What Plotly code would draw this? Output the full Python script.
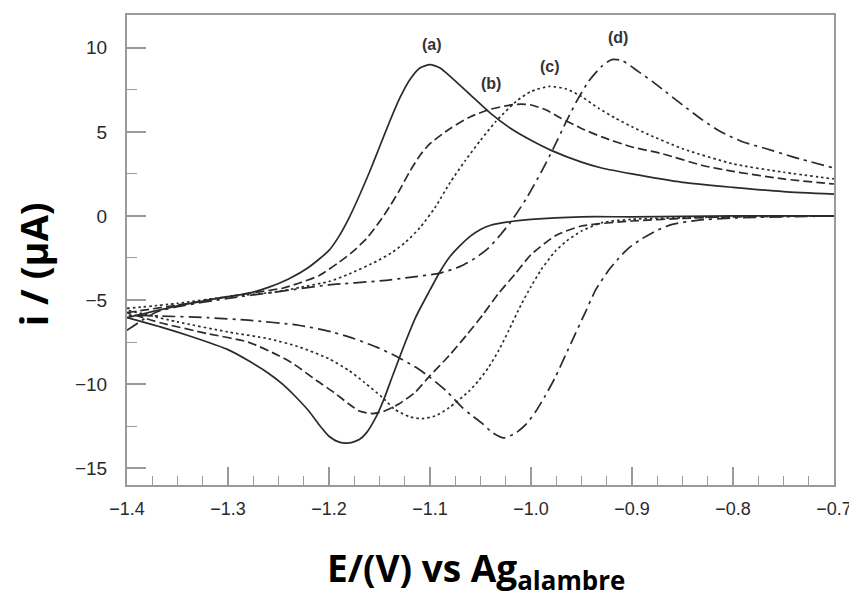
import plotly.graph_objects as go

# ---------------- data ----------------
# curve (a) – solid
a_fwd_E = [-1.40, -1.35, -1.30, -1.28, -1.26, -1.24, -1.22, -1.20, -1.19, -1.18, -1.17, -1.16, -1.15, -1.14,
           -1.13, -1.12, -1.11, -1.10, -1.09, -1.08, -1.06, -1.04, -1.02, -1.00, -0.98, -0.95, -0.93, -0.90,
           -0.85, -0.80, -0.75, -0.70]
a_fwd_i = [-6.05, -5.35, -4.8, -4.6, -4.25, -3.75, -3.05, -2.05, -1.2, -0.1, 1.2, 2.6, 4.1, 5.6,
           7.0, 8.1, 8.8, 9.0, 8.8, 8.3, 7.2, 6.1, 5.2, 4.5, 3.9, 3.2, 2.85, 2.5,
           2.0, 1.7, 1.45, 1.3]
a_rev_E = [-0.70, -0.80, -0.90, -0.95, -1.00, -1.02, -1.04, -1.05, -1.06, -1.07, -1.08, -1.09, -1.10, -1.114,
           -1.125, -1.137, -1.145, -1.153, -1.163, -1.17, -1.18, -1.19, -1.20, -1.21, -1.22, -1.233,
           -1.246, -1.26, -1.28, -1.30, -1.335, -1.367, -1.40]
a_rev_i = [0.0, 0.0, -0.05, -0.05, -0.2, -0.33, -0.55, -0.8, -1.2, -1.75, -2.4, -3.3, -4.4, -6.0,
           -7.6, -9.5, -10.8, -11.9, -12.9, -13.3, -13.5, -13.45, -13.1, -12.4, -11.6, -10.75,
           -10.0, -9.35, -8.6, -7.95, -7.2, -6.6, -6.05]

# curve (b) – dashed
b_fwd_E = [-1.40, -1.35, -1.30, -1.28, -1.246, -1.23, -1.21, -1.19, -1.177, -1.163, -1.15, -1.14, -1.13,
           -1.12, -1.11, -1.10, -1.08, -1.06, -1.04, -1.02, -1.01, -1.00, -0.985, -0.97, -0.95, -0.93, -0.90,
           -0.87, -0.83, -0.80, -0.75, -0.70]
b_fwd_i = [-5.75, -5.3, -4.8, -4.6, -4.3, -4.0, -3.55, -2.75, -2.15, -1.35, -0.35, 0.55, 1.55,
           2.65, 3.6, 4.3, 5.2, 5.9, 6.35, 6.6, 6.65, 6.6, 6.3, 5.8, 5.2, 4.7, 4.1,
           3.7, 3.0, 2.65, 2.2, 1.9]
b_rev_E = [-0.70, -0.80, -0.85, -0.90, -0.95, -0.975, -1.00, -1.015, -1.032, -1.048, -1.064, -1.081,
           -1.10, -1.115, -1.13, -1.145, -1.157, -1.17, -1.18, -1.195, -1.212, -1.235, -1.25, -1.28,
           -1.32, -1.367, -1.40]
b_rev_i = [0.0, -0.05, -0.15, -0.3, -0.6, -1.15, -2.3, -3.4, -4.6, -5.9, -7.1, -8.3,
           -9.5, -10.5, -11.15, -11.6, -11.75, -11.6, -11.2, -10.5, -9.8, -8.8, -8.3, -7.5,
           -7.0, -6.35, -5.75]

# curve (c) – dotted
c_fwd_E = [-1.40, -1.35, -1.30, -1.25, -1.229, -1.20, -1.18, -1.153, -1.137, -1.124, -1.11, -1.095,
           -1.08, -1.065, -1.05, -1.035, -1.015, -1.00, -0.982, -0.965, -0.95, -0.933, -0.916,
           -0.90, -0.884, -0.85, -0.80, -0.75, -0.70]
c_fwd_i = [-5.5, -5.2, -4.8, -4.5, -4.25, -3.9, -3.45, -2.7, -2.15, -1.55, -0.7, 0.5,
           2.0, 3.3, 4.5, 5.6, 6.8, 7.4, 7.7, 7.55, 7.1, 6.4, 5.8,
           5.3, 4.85, 4.0, 3.1, 2.6, 2.2]
c_rev_E = [-0.70, -0.80, -0.90, -0.93, -0.95, -0.965, -0.976, -0.99, -1.00, -1.01, -1.022, -1.032,
           -1.042, -1.052, -1.061, -1.081, -1.095, -1.108, -1.12, -1.135, -1.147, -1.165, -1.18,
           -1.20, -1.229, -1.26, -1.30, -1.35, -1.40]
c_rev_i = [0.0, -0.05, -0.2, -0.4, -0.9, -1.5, -2.1, -3.2, -4.2, -5.3, -6.8, -8.0,
           -9.0, -9.8, -10.4, -11.4, -11.9, -12.05, -11.95, -11.5, -10.8, -9.9, -9.2,
           -8.5, -7.8, -7.3, -6.9, -6.3, -5.6]

# curve (d) – dash-dot
d_fwd_E = [-1.40, -1.385, -1.37, -1.35, -1.30, -1.25, -1.20, -1.147, -1.12, -1.09, -1.07, -1.055,
           -1.042, -1.03, -1.02, -1.005, -0.99, -0.978, -0.966, -0.955, -0.943, -0.93, -0.92, -0.91,
           -0.894, -0.88, -0.867, -0.85, -0.83, -0.812, -0.79, -0.767, -0.74, -0.70]
d_fwd_i = [-6.8, -6.2, -5.7, -5.4, -4.9, -4.5, -4.1, -3.85, -3.65, -3.4, -3.0, -2.5,
           -1.9, -1.1, -0.35, 1.0, 2.6, 4.0, 5.5, 6.8, 8.0, 8.9, 9.3, 9.25,
           8.6, 8.0, 7.4, 6.6, 5.7, 5.0, 4.4, 4.0, 3.5, 2.85]
d_rev_E = [-0.70, -0.75, -0.80, -0.834, -0.86, -0.875, -0.89, -0.903, -0.913, -0.924, -0.936, -0.946,
           -0.956, -0.966, -0.976, -0.986, -0.995, -1.005, -1.015, -1.027, -1.038, -1.048, -1.06, -1.068,
           -1.084, -1.10, -1.114, -1.135, -1.153, -1.175, -1.197, -1.23, -1.28, -1.32, -1.367, -1.40]
d_rev_i = [0.0, -0.05, -0.12, -0.25, -0.5, -0.85, -1.35, -1.9, -2.5, -3.3, -4.4, -5.7,
           -7.0, -8.3, -9.6, -10.7, -11.6, -12.4, -12.9, -13.2, -12.9, -12.35, -11.8, -11.4,
           -10.4, -9.6, -9.0, -8.3, -7.8, -7.3, -6.9, -6.5, -6.2, -6.05, -5.95, -5.9]

curve_labels = ["(a)", "(b)", "(c)", "(d)"]
label_E = [-1.098, -1.040, -0.981, -0.914]
label_i = [10.2, 7.9, 8.9, 10.6]

x_tick_vals = [-1.4, -1.3, -1.2, -1.1, -1.0, -0.9, -0.8, -0.7]
x_tick_text = ["\u22121.4", "\u22121.3", "\u22121.2", "\u22121.1", "\u22121.0", "\u22120.9", "\u22120.8", "\u22120.7"]
y_tick_vals = [-15, -10, -5, 0, 5, 10]
y_tick_text = ["\u221215", "\u221210", "\u22125", "0", "5", "10"]

# ---------------- figure ----------------
line_col = "#2b2b2b"
branches = [
    ("(a)", a_fwd_E, a_fwd_i, a_rev_E, a_rev_i, "solid"),
    ("(b)", b_fwd_E, b_fwd_i, b_rev_E, b_rev_i, "9px,4px"),
    ("(c)", c_fwd_E, c_fwd_i, c_rev_E, c_rev_i, "2.5px,3px"),
    ("(d)", d_fwd_E, d_fwd_i, d_rev_E, d_rev_i, "13px,5px,3px,5px"),
]

fig = go.Figure()
for name, fx, fy, rx, ry, dash in branches:
    for xs, ys in ((fx, fy), (rx, ry)):
        fig.add_trace(go.Scatter(
            x=xs, y=ys, mode="lines", name=name,
            line=dict(color=line_col, width=1.7, dash=dash, shape="spline", smoothing=0.6),
            showlegend=False, hoverinfo="skip",
        ))

for t, xe, yi in zip(curve_labels, label_E, label_i):
    fig.add_annotation(x=xe, y=yi, text="<b>" + t + "</b>", showarrow=False,
                       font=dict(family="Liberation Sans, Arial", size=16, color="#333333"))

axis_col = "#9a9a9a"
fig.update_xaxes(
    range=[-1.4, -0.7], tickvals=x_tick_vals, ticktext=x_tick_text,
    showgrid=False, zeroline=False, showline=True, linecolor=axis_col, linewidth=2, mirror=True,
    ticks="inside", ticklen=18, tickwidth=1.5, tickcolor=axis_col,
    minor=dict(dtick=0.025, tick0=-1.4, ticks="inside", ticklen=9, tickwidth=1.2, tickcolor=axis_col, showgrid=False),
    tickfont=dict(family="Liberation Sans, Arial", size=18, color="#2a2a2a"),
    ticklabelstandoff=6,
)
fig.update_yaxes(
    range=[-16.0, 11.95], tickvals=y_tick_vals, ticktext=y_tick_text,
    showgrid=False, zeroline=False, showline=True, linecolor=axis_col, linewidth=2, mirror=True,
    ticks="inside", ticklen=19, tickwidth=1.5, tickcolor=axis_col,
    minor=dict(dtick=2.5, tick0=0, ticks="inside", ticklen=10, tickwidth=1.2, tickcolor=axis_col, showgrid=False),
    tickfont=dict(family="Liberation Sans, Arial", size=19, color="#2a2a2a"),
    ticklabelstandoff=14,
)

fig.add_annotation(xref="paper", yref="paper", x=-0.1326, y=0.47, xanchor="center", yanchor="middle",
                   text="<b>i / (µA)</b>", textangle=-90, showarrow=False,
                   font=dict(family="Open Sans", size=38, color="#000000"))
fig.add_annotation(xref="paper", yref="paper", x=0.493, y=-0.18, xanchor="center", yanchor="middle",
                   text="<b>E/(V) vs Ag<sub>alambre</sub></b>", showarrow=False,
                   font=dict(family="Open Sans", size=37, color="#000000"))

# page body has an 8px default margin: size/margins compensate so the plot frame lands where the reference has it
fig.update_layout(
    width=849, height=594,
    margin=dict(l=119, r=21, t=5, b=117),
    paper_bgcolor="white", plot_bgcolor="white",
)

fig.write_html("out.html")
